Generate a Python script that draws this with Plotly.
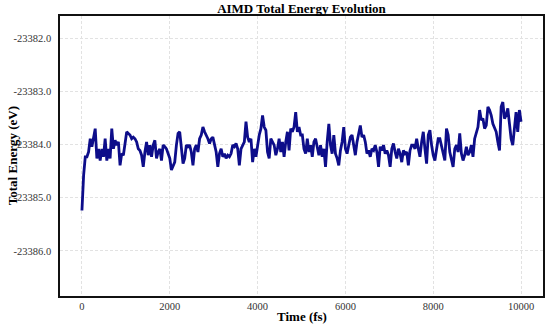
import numpy as np
import plotly.graph_objects as go

# Total energy (eV), evenly spaced over 0..10000 fs
energy_part1 = [
    -23385.24, -23384.58, -23384.23, -23384.23, -23384.14, -23383.89, -23384.04, -23383.86,
    -23383.70, -23384.26, -23384.08, -23384.30, -23384.08, -23384.23, -23383.89, -23384.30,
    -23384.08, -23384.26, -23383.70, -23384.08, -23383.92, -23384.01, -23383.95, -23384.39,
    -23384.17, -23384.20, -23384.01, -23383.76, -23383.79, -23383.82, -23383.89, -23383.86,
    -23383.89, -23383.95, -23384.08, -23384.11, -23384.20, -23384.42, -23384.14, -23383.95,
    -23384.20, -23384.01, -23384.23, -23384.01, -23383.92, -23384.26, -23384.14, -23384.08,
    -23384.30, -23384.01, -23384.04, -23384.08, -23384.17, -23384.26, -23384.48, -23384.39,
    -23384.33, -23384.01, -23383.79, -23383.76, -23384.01, -23384.36, -23384.26, -23384.01,
    -23384.04, -23384.01,
]
energy_part2 = [
    -23384.14, -23384.39, -23384.08, -23384.01, -23384.14, -23383.89, -23383.82, -23383.67,
    -23383.76, -23383.82, -23383.89, -23383.98, -23383.89, -23383.86, -23384.01, -23384.14,
    -23384.42, -23384.17, -23384.08, -23384.23, -23384.17, -23384.26, -23384.20, -23384.23,
    -23384.17, -23384.01, -23384.04, -23383.98, -23384.08, -23384.39, -23384.08, -23384.01,
    -23383.95, -23383.57, -23383.86, -23383.95, -23383.89, -23384.33, -23384.08, -23384.23,
    -23384.01, -23383.82, -23383.70, -23383.45, -23383.67, -23383.73, -23384.14, -23384.26,
    -23383.89, -23383.95, -23384.01, -23384.20, -23384.08, -23383.89, -23384.14, -23383.95,
    -23384.23, -23383.95, -23383.76, -23384.11, -23383.70, -23383.76, -23383.67, -23383.39,
    -23383.76, -23383.67, -23383.82,
]
energy_part3 = [
    -23383.82, -23384.08, -23384.17, -23383.89, -23384.14, -23384.01, -23384.23, -23383.95,
    -23383.89, -23384.08, -23384.20, -23384.01, -23384.23, -23384.08, -23384.42, -23383.95,
    -23383.61, -23384.01, -23384.17, -23383.82, -23384.17, -23384.26, -23384.39, -23384.11,
    -23383.95, -23383.67, -23384.08, -23384.17, -23384.01, -23383.86, -23383.82, -23384.01,
    -23384.20, -23383.95, -23383.76, -23383.64, -23383.86, -23383.82, -23383.95, -23384.17,
    -23384.11, -23384.23, -23384.08, -23384.11, -23384.01, -23384.14, -23384.42, -23384.04,
    -23384.11, -23384.01, -23384.17, -23384.11, -23384.20, -23384.42, -23384.08, -23383.98,
    -23384.14, -23384.26, -23384.08, -23384.17, -23384.33, -23384.11, -23384.17, -23384.14,
    -23384.39, -23384.11, -23384.01,
]
energy_part4 = [
    -23384.01, -23384.08, -23383.89, -23384.08, -23384.23, -23383.95, -23383.76, -23384.08,
    -23384.36, -23383.82, -23383.73, -23384.01, -23384.20, -23384.30, -23384.08, -23383.89,
    -23383.89, -23384.01, -23384.17, -23384.30, -23383.70, -23383.82, -23384.14, -23384.26,
    -23384.42, -23384.08, -23384.01, -23384.14, -23383.79, -23384.17, -23384.30, -23384.20,
    -23384.04, -23384.20, -23384.14, -23384.01, -23384.23, -23383.89, -23383.79, -23383.67,
    -23383.35, -23383.54, -23383.51, -23383.70, -23383.64, -23383.29, -23383.35, -23383.45,
    -23383.61, -23383.70, -23383.76, -23383.95, -23384.11, -23383.29, -23383.20, -23383.51,
    -23383.45, -23383.32, -23383.67, -23383.89, -23384.01, -23383.70, -23383.39, -23383.76,
    -23383.35, -23383.57,
]
energy = energy_part1 + energy_part2 + energy_part3 + energy_part4
time_fs = np.linspace(0, 10000, len(energy))

x_ticks = [0, 2000, 4000, 6000, 8000, 10000]
x_tick_labels = ["0", "2000", "4000", "6000", "8000", "10000"]
y_ticks = [-23382.0, -23383.0, -23384.0, -23385.0, -23386.0]
y_tick_labels = ["-23382.0", "-23383.0", "-23384.0", "-23385.0", "-23386.0"]

FONT = "Liberation Serif"

fig = go.Figure()
fig.add_trace(go.Scatter(
    x=time_fs, y=energy, mode="lines",
    line=dict(color="#0d0d8a", width=2.8),
    showlegend=False,
))

axis_common = dict(
    showline=True, linecolor="#111", linewidth=1.5, mirror=True,
    showgrid=True, gridcolor="#e2e2e2", gridwidth=0.8, griddash="3px,2px",
    zeroline=False, ticks="", automargin=False,
    tickfont=dict(family=FONT, size=10.5, color="#333"),
)

fig.update_layout(
    width=550, height=327, autosize=False,
    margin=dict(l=60, r=7, t=16, b=31, pad=0),
    paper_bgcolor="white", plot_bgcolor="white",
    title=dict(text="<b>AIMD Total Energy Evolution</b>", x=0.5, xref="paper",
               y=1 - 8.3 / 327, yref="container", yanchor="middle", xanchor="center",
               font=dict(family=FONT, size=13, color="black")),
    xaxis=dict(range=[-500, 10500], tickvals=x_ticks, ticktext=x_tick_labels, **axis_common),
    yaxis=dict(range=[-23386.85, -23381.58], tickvals=y_ticks, ticktext=y_tick_labels,
               ticklabelstandoff=5, **axis_common),
    annotations=[
        dict(text="<b>Time (fs)</b>", xref="paper", yref="paper", x=0.5, y=-0.072,
             xanchor="center", yanchor="middle", showarrow=False,
             font=dict(family=FONT, size=13, color="black")),
        dict(text="<b>Total Energy (eV)</b>", xref="paper", yref="paper", x=-0.099, y=0.5,
             xanchor="center", yanchor="middle", textangle=-90, showarrow=False,
             font=dict(family=FONT, size=13, color="black")),
    ],
)

fig.write_html(
    "out.html",
    config={"displayModeBar": False},
    post_script="document.body.style.margin='0';document.body.style.padding='0';"
                "document.documentElement.style.overflow='hidden';",
)
